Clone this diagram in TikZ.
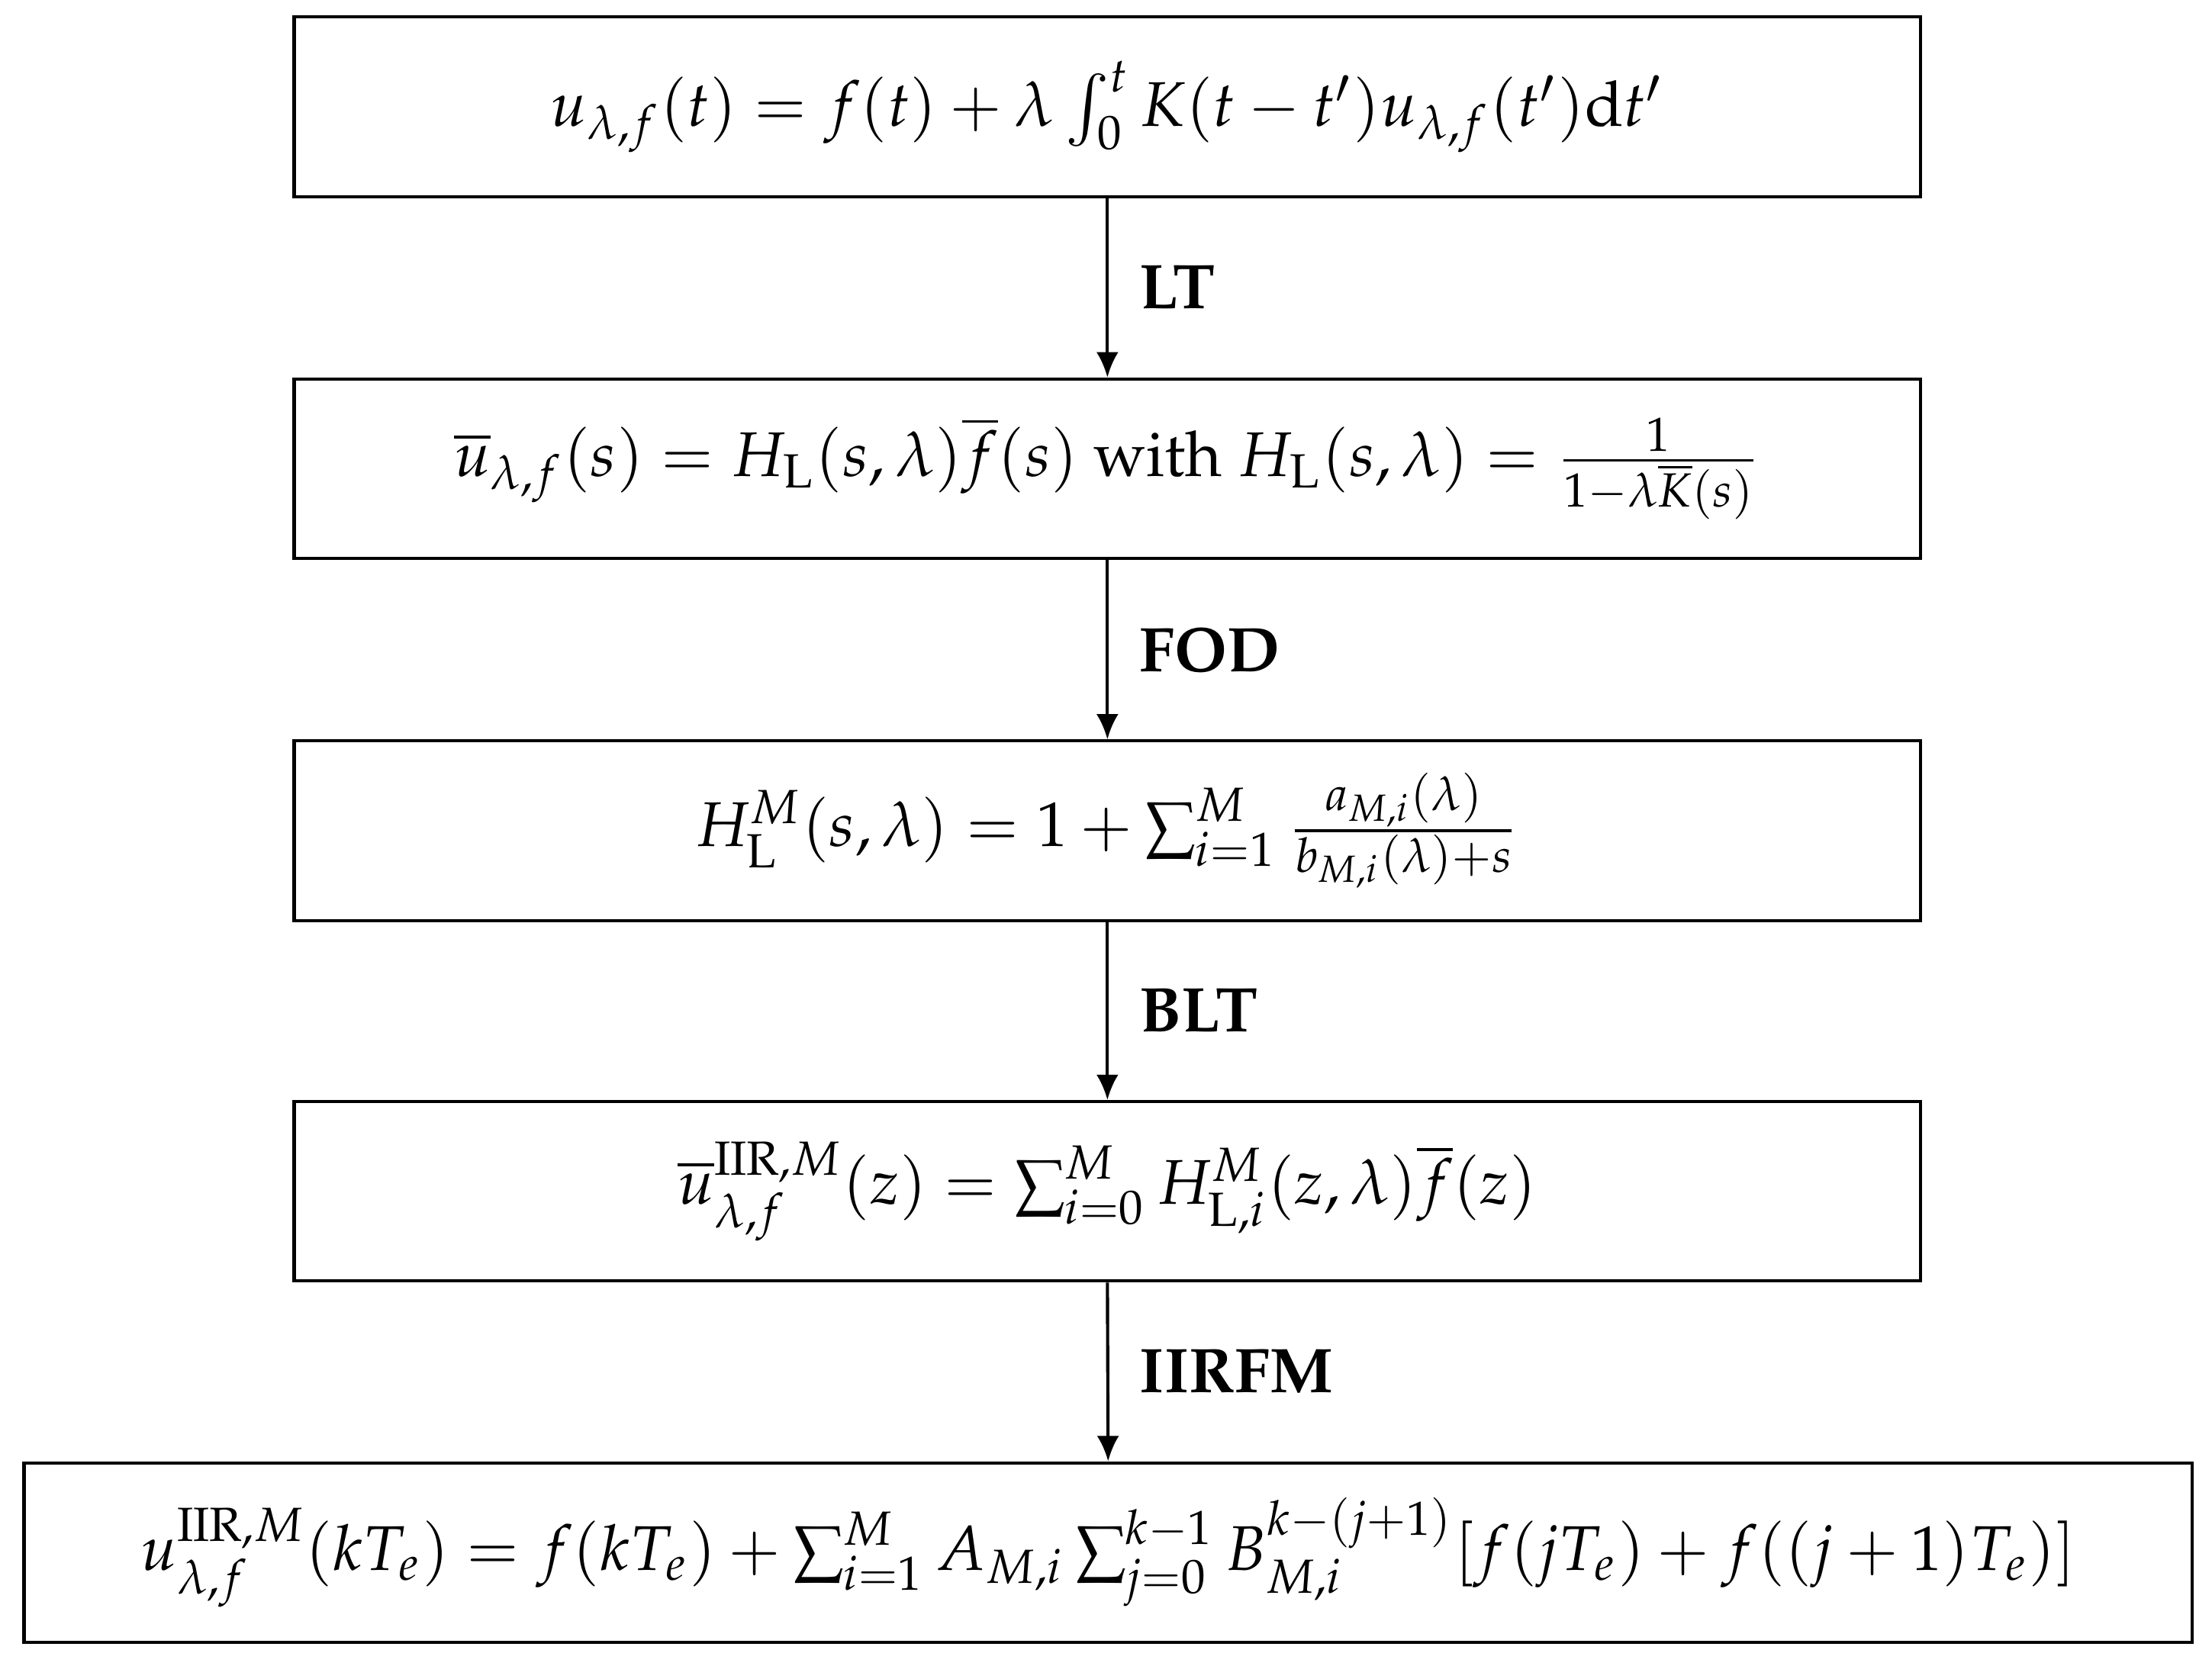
\documentclass[tikz,border=0pt]{standalone}
\usepackage[T1]{fontenc}
\usepackage{mathpazo}
\usepackage{amsmath}
\usetikzlibrary{arrows.meta}
\begin{document}
\begin{tikzpicture}[x=0.224pt,y=0.224pt,
  eqbox/.style={draw,line width=0.5pt,minimum height=127*0.224pt,inner sep=0pt},
  lab/.style={anchor=west,font=\fontseries{b}\selectfont},
  conn/.style={-{Latex[length=4pt,width=3.5pt]},line width=0.5pt}]
\useasboundingbox (0,0) rectangle (1564,-1178);
\node[eqbox,minimum width=1150*0.224pt] (b1) at (783,-75.5) {$u_{\lambda,f}(t) = f(t) + \lambda \int_0^t K(t-t')u_{\lambda,f}(t')\mathrm{d}t'$};
\node[eqbox,minimum width=1150*0.224pt] (b2) at (783,-331.5) {$\overline{u}_{\lambda,f}(s) = H_{\mathrm{L}}(s,\lambda)\overline{f}(s) \text{ with } H_{\mathrm{L}}(s,\lambda)=\frac{1}{1-\lambda\overline{K}(s)}$};
\node[eqbox,minimum width=1150*0.224pt] (b3) at (783,-587.5) {$H^M_{\mathrm{L}}(s,\lambda)=1+\sum_{i=1}^M \frac{a_{M,i}(\lambda)}{b_{M,i}(\lambda)+s}$};
\node[eqbox,minimum width=1150*0.224pt] (b4) at (783,-842.5) {$\overline{u}^{\mathrm{IIR},M}_{\lambda,f}(z)=\sum_{i=0}^M H^M_{\mathrm{L},i}(z,\lambda)\overline{f}(z)$};
\node[eqbox,minimum width=1533*0.224pt] (b5) at (783.5,-1098) {$u^{\mathrm{IIR},M}_{\lambda,f}(kT_e) = f(kT_e)+\sum_{i=1}^M A_{M,i}\sum_{j=0}^{k-1} B^{k-(j+1)}_{M,i}[f(jT_e)+f((j+1)T_e)]$};
\draw[conn] (b1.south) -- (b2.north) node[midway,lab,xshift=1.5pt] (l1) {LT};
\draw[conn] (b2.south) -- (b3.north) node[midway,lab,xshift=1.5pt] (l2) {FOD};
\draw[conn] (b3.south) -- (b4.north) node[midway,lab,xshift=1.5pt] (l3) {BLT};
\draw[conn] (b4.south) -- (b5.north) node[midway,lab,xshift=1.5pt] (l4) {IIRFM};
\end{tikzpicture}
\end{document}
